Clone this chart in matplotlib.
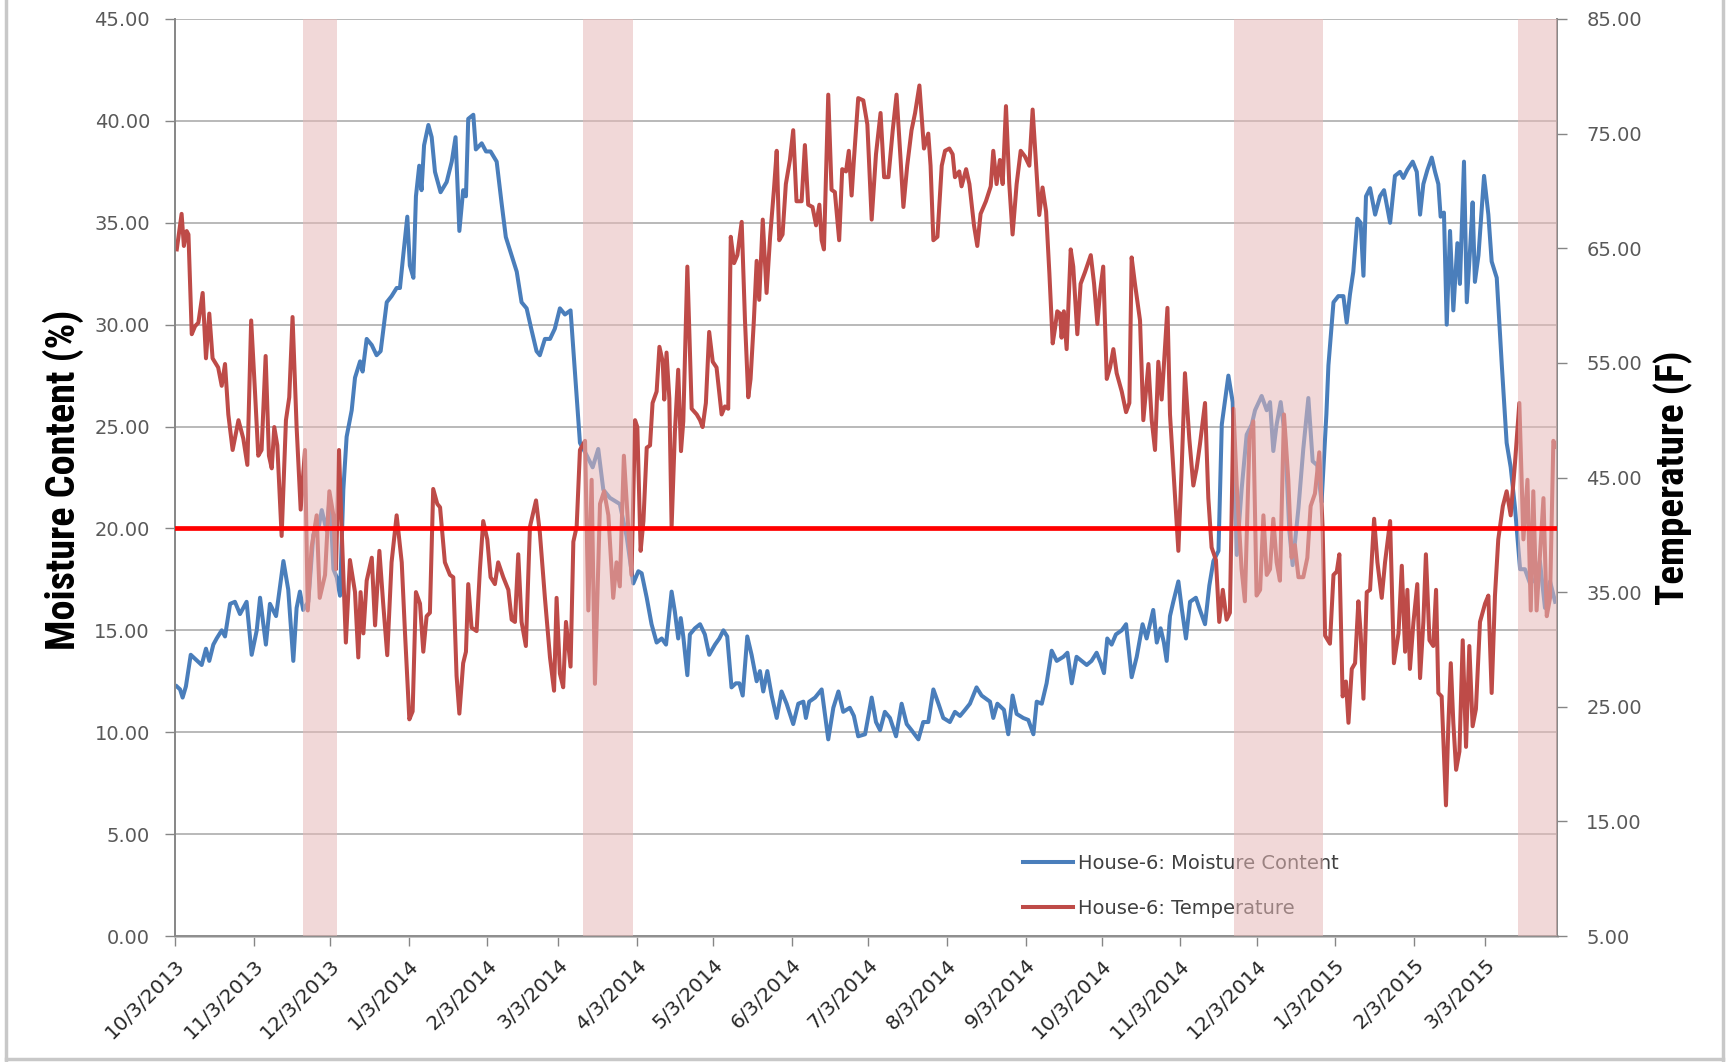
import matplotlib
matplotlib.use("Agg")
import matplotlib.pyplot as plt
from matplotlib import font_manager, transforms
from matplotlib.lines import Line2D
import numpy as np
import pandas as pd

# ---------------- data ----------------
start_date = "2013-10-03"

moist_days = [0.7, 2.0, 3.0, 4.3, 6.2, 7.9, 10.5, 12.2, 13.5, 15.1, 16.4, 18.4, 19.7, 21.7, 23.6, 25.6, 28.2,
              30.2, 32.2, 33.5, 35.8, 37.4, 39.8, 42.7, 44.6, 46.6, 47.9, 49.2, 50.5, 52.5, 54.5, 56.5, 57.8,
              59.7, 61.0, 62.4, 63.7, 65.0, 66.3, 67.6, 69.6, 70.9, 72.9, 73.9, 75.5, 77.5, 79.4, 81.0, 83.4,
              85.3, 87.3, 88.6, 89.9, 91.5, 92.5, 93.9, 94.9, 96.2, 97.1, 98.1, 99.8, 101.1, 102.4, 104.6,
              107.0, 109.0, 110.5, 112.0, 113.5, 114.6, 115.5, 117.5, 118.5, 120.8, 122.5, 124.3, 126.7,
              128.6, 130.3, 132.6, 134.6, 136.5, 138.5, 140.5, 142.4, 143.7, 145.7, 147.7, 149.6, 151.6,
              153.6, 155.8, 157.5, 159.5, 162.1, 164.5, 166.7, 168.7, 171.3, 175.2, 177.9, 180.5, 182.5,
              183.8, 185.8, 187.7, 189.7, 191.7, 193.4, 195.6, 196.9, 198.2, 199.2, 200.2, 201.8, 202.8,
              204.8, 206.8, 208.7, 210.4, 212.7, 214.4, 216.0, 217.5, 219.2, 220.9, 222.3, 223.6, 225.4,
              227.1, 229.1, 230.4, 231.7, 233.3, 235.0, 237.0, 238.9, 240.9, 243.5, 245.5, 247.5, 248.5,
              249.8, 252.1, 254.7, 257.3, 259.3, 261.3, 263.2, 265.8, 267.4, 269.1, 271.8, 274.4, 276.1,
              277.7, 279.6, 281.6, 284.0, 286.2, 288.2, 290.1, 292.8, 294.7, 296.7, 298.7, 300.7, 302.6,
              305.2, 307.2, 309.2, 311.2, 313.1, 315.7, 317.7, 321.0, 322.3, 323.9, 326.5, 328.2, 329.9,
              331.5, 334.1, 336.1, 338.1, 339.4, 341.4, 343.3, 345.3, 347.3, 349.9, 351.5, 353.2, 355.1,
              357.1, 359.1, 361.0, 363.0, 364.6, 365.9, 367.2, 368.9, 370.6, 372.9, 374.6, 376.8, 378.8,
              381.1, 382.7, 385.3, 386.7, 388.2, 389.5, 390.6, 391.9, 393.2, 395.2, 396.5, 398.2, 399.8,
              402.1, 403.7, 405.7, 407.4, 409.0, 411.0, 412.3, 414.9, 416.6, 418.2, 420.1, 422.1, 424.1,
              425.4, 428.0, 430.0, 431.3, 432.6, 433.9, 435.5, 437.2, 438.9, 440.2, 442.5, 444.4, 446.4,
              448.1, 449.9, 451.6, 453.5, 454.3, 456.3, 458.2, 460.2, 461.5, 462.8, 464.1, 465.7, 467.0,
              468.1, 469.1, 470.7, 472.7, 474.6, 476.2, 478.6, 480.5, 482.5, 483.8, 485.4, 487.5, 489.1,
              490.4, 491.7, 493.3, 495.0, 496.3, 497.6, 498.5, 499.8, 500.9, 502.2, 503.5, 505.1, 506.1,
              507.7, 508.8, 510.1, 511.1, 512.0, 513.4, 515.6, 517.3, 518.6, 520.6, 522.6, 524.5, 526.1,
              527.8, 529.8, 531.7, 533.7, 535.7, 537.6, 539.6, 541.6, 543.6]
moist_vals = [12.25, 12.1, 11.7, 12.25, 13.8, 13.6, 13.3, 14.1, 13.5, 14.3, 14.6, 15.0, 14.7, 16.3, 16.4, 15.8, 16.4,
              13.8, 15.0, 16.6, 14.3, 16.3, 15.7, 18.4, 17.0, 13.5, 16.1, 16.9, 16.0, 16.4, 19.7, 20.0, 20.9,
              19.9, 21.6, 18.0, 17.6, 16.7, 21.9, 24.5, 25.8, 27.4, 28.2, 27.7, 29.3, 29.0, 28.5, 28.7, 31.1,
              31.4, 31.8, 31.8, 33.4, 35.3, 32.9, 32.3, 36.3, 37.8, 36.6, 38.8, 39.8, 39.2, 37.5, 36.5,
              37.0, 38.0, 39.2, 34.6, 36.6, 36.3, 40.1, 40.3, 38.6, 38.9, 38.5, 38.5, 38.0,
              36.0, 34.3, 33.4, 32.6, 31.1, 30.8, 29.7, 28.7, 28.5, 29.3, 29.3, 29.8, 30.8,
              30.5, 30.7, 27.7, 24.2, 23.6, 23.0, 23.9, 21.9, 21.5, 21.2, 19.6, 17.3, 17.9,
              17.8, 16.6, 15.3, 14.4, 14.6, 14.3, 16.9, 15.9, 14.6, 15.6, 14.7, 12.8, 14.8,
              15.1, 15.3, 14.8, 13.8, 14.3, 14.6, 15.0, 14.7, 12.2, 12.4, 12.4, 11.8, 14.7,
              13.8, 12.5, 13.0, 12.0, 13.0, 11.8, 10.7, 12.0, 11.4, 10.4, 11.4, 11.5, 10.7,
              11.5, 11.7, 12.1, 9.65, 11.2, 12.0, 11.0, 11.2, 10.8, 9.8, 9.9, 11.7, 10.5,
              10.1, 11.0, 10.7, 9.8, 11.4, 10.4, 10.1, 9.65, 10.5, 10.5, 12.1, 11.4, 10.7,
              10.5, 11.0, 10.8, 11.1, 11.4, 12.2, 11.8, 11.5, 10.7, 11.4, 11.1, 9.9, 11.8,
              10.9, 10.7, 10.6, 9.9, 11.5, 11.4, 12.4, 14.0, 13.5, 13.7, 13.9, 12.4, 13.7,
              13.5, 13.3, 13.5, 13.9, 13.4, 12.9, 14.6, 14.3, 14.8, 15.0, 15.3, 12.7, 13.7,
              15.3, 14.6, 16.0, 14.4, 15.1, 14.4, 13.5, 15.7, 16.4, 17.4, 16.1, 14.6, 16.4,
              16.6, 16.0, 15.3, 17.2, 18.4, 18.9, 25.1, 27.5, 26.2, 18.7, 21.9, 24.6, 25.1,
              25.8, 26.5, 25.8, 26.2, 23.8, 25.1, 26.2, 24.5, 19.9, 18.2, 21.0, 23.9, 26.4,
              23.3, 23.1, 21.3, 25.6, 28.0, 31.1, 31.4, 31.4, 30.1, 31.5, 32.6, 35.2, 35.0,
              32.4, 36.3, 36.7, 35.4, 36.3, 36.6, 35.0, 37.3, 37.5, 37.2, 37.6, 38.0, 37.5,
              35.4, 36.9, 37.6, 38.2, 37.5, 36.9, 35.3, 35.5, 30.0, 34.6, 30.7, 34.0, 32.0,
              38.0, 31.1, 33.7, 36.0, 32.1, 33.4, 37.3, 35.4, 33.1, 32.3, 28.0, 24.2, 23.0,
              21.0, 18.0, 18.0, 17.3, 17.5, 18.4, 16.1, 17.4, 16.4]

temp_days = [0.7, 2.6, 3.5, 4.6, 5.3, 6.6, 7.9, 9.2, 10.9, 12.2, 13.5, 14.8, 17.0, 18.4, 19.7, 21.0, 22.7, 25.0,
             26.9, 28.5, 30.0, 31.5, 32.8, 34.1, 35.7, 37.0, 38.1, 39.1, 40.3, 42.0, 43.7, 45.0, 46.3, 47.9,
             49.5, 51.2, 52.3, 53.8, 55.8, 57.0, 59.1, 60.8, 62.4, 63.4, 64.6, 65.6, 67.3, 68.9, 70.9, 72.2,
             73.1, 74.2, 75.5, 77.5, 78.8, 80.5, 82.0, 83.6, 85.3, 87.3, 89.3, 90.6, 92.3, 93.6, 94.9, 96.5,
             97.8, 99.1, 100.4, 101.7, 103.3, 104.4, 106.3, 108.3, 109.6, 110.9, 112.0, 113.5, 114.6, 115.5,
             116.8, 118.8, 120.1, 121.4, 123.0, 124.3, 126.0, 127.3, 129.3, 131.3, 132.6, 133.9, 135.2,
             136.5, 138.2, 139.8, 142.2, 143.7, 145.7, 147.7, 149.3, 150.3, 151.6, 152.9, 154.0, 155.8,
             156.9, 158.2, 159.5, 161.5, 162.8, 164.1, 165.4, 167.4, 169.0, 170.7, 172.6, 173.9, 175.2,
             176.8, 178.5, 179.8, 181.2, 182.1, 183.4, 184.5, 185.8, 187.1, 188.1, 189.7, 190.8, 192.1,
             192.7, 193.6, 194.7, 195.6, 196.9, 198.2, 199.3, 200.2, 201.8, 203.5, 205.5, 206.8, 207.8,
             209.1, 210.4, 211.8, 213.3, 215.3, 216.6, 217.9, 218.9, 220.2, 221.5, 223.2, 224.5, 225.8,
             226.7, 228.0, 229.1, 230.1, 231.5, 233.0, 234.4, 235.9, 237.0, 238.0, 239.3, 240.6, 242.2,
             243.5, 244.8, 246.8, 248.1, 249.4, 251.1, 252.5, 253.8, 254.7, 255.6, 257.3, 258.6, 259.9,
             261.6, 262.8, 264.3, 265.4, 266.5, 267.4, 269.1, 271.1, 272.7, 274.4, 276.1, 277.9, 279.3,
             281.0, 282.7, 284.2, 285.8, 286.9, 288.4, 290.1, 291.5, 293.2, 295.0, 296.7, 297.6, 298.7,
             300.3, 302.0, 303.3, 305.0, 306.3, 307.2, 308.9, 309.8, 311.6, 312.9, 314.7, 316.0, 317.3,
             319.4, 321.3, 322.3, 323.6, 324.9, 326.0, 327.3, 328.6, 329.9, 331.5, 333.1, 334.8, 336.5,
             337.8, 339.4, 340.4, 341.7, 343.1, 344.4, 345.7, 346.6, 347.5, 348.6, 349.2, 350.1, 351.2,
             352.8, 353.8, 355.4, 356.7, 358.4, 360.7, 362.0, 363.3, 364.3, 365.6, 367.0, 368.3, 369.6,
             370.9, 372.9, 374.6, 375.9, 376.8, 378.1, 380.1, 381.4, 383.4, 384.7, 386.0, 387.3, 388.6,
             389.3, 390.9, 391.9, 393.9, 395.2, 396.5, 397.8, 399.5, 401.1, 402.4, 403.7, 405.7, 407.0,
             408.3, 410.0, 411.3, 412.7, 414.2, 415.5, 416.9, 418.2, 420.1, 421.4, 423.2, 424.7, 426.0,
             427.4, 428.7, 430.0, 431.3, 432.6, 433.9, 435.2, 436.8, 438.5, 439.8, 441.1, 442.5, 444.4,
             446.0, 447.3, 449.0, 450.7, 452.0, 453.0, 454.9, 456.3, 457.6, 458.6, 459.9, 461.2, 462.2,
             463.5, 464.8, 466.1, 467.0, 468.1, 469.4, 470.7, 472.3, 473.6, 475.3, 476.6, 478.6, 480.1,
             481.9, 483.2, 484.5, 485.4, 486.4, 487.8, 489.3, 490.4, 491.7, 492.7, 494.1, 495.6, 496.7,
             497.6, 498.9, 500.6, 501.5, 502.5, 503.5, 504.6, 505.9, 507.2, 508.5, 509.8, 511.1, 512.4,
             514.0, 516.0, 517.3, 518.6, 519.9, 521.2, 523.0, 524.5, 526.1, 527.8, 529.5, 531.1, 532.7,
             534.0, 535.0, 536.3, 537.6, 539.0, 540.3, 541.6, 542.9, 544.0]
temp_vals = [64.9, 68.0, 65.2, 66.5, 66.2, 57.5, 58.2, 58.5, 61.1, 55.4, 59.3, 55.4, 54.6, 53.0, 54.9, 50.5, 47.4, 50.0,
             48.4, 46.1, 58.7, 52.5, 46.9, 47.4, 55.6, 46.9, 45.8, 49.4, 47.8, 39.9, 50.0, 52.0, 59.0, 49.4,
             42.2, 47.4, 33.4, 38.9, 41.7, 34.5, 36.5, 43.8, 41.7, 37.0, 47.4, 40.7, 30.6, 37.8, 35.0, 29.3,
             35.0, 31.4, 36.0, 38.0, 32.1, 38.6, 34.0, 29.5, 37.6, 41.7, 37.6, 31.4, 23.9, 24.6, 35.0, 34.0,
             29.8, 32.9, 33.2, 44.0, 42.7, 42.4, 37.6, 36.5, 36.3, 27.7, 24.4, 28.8, 29.8, 35.7,
             31.9, 31.6, 37.0, 41.2, 39.6, 36.3, 35.7, 37.6, 36.3, 35.2, 32.6, 32.4, 38.3,
             32.4, 30.3, 40.7, 43.0, 40.2, 34.5, 29.3, 26.4, 34.5, 27.9, 26.7, 32.4, 28.5,
             39.4, 40.7, 47.4, 48.2, 33.4, 44.8, 27.0, 42.7, 43.8, 41.7, 34.5, 37.6, 35.5,
             46.9, 40.7, 36.5, 50.0, 49.4, 38.6, 41.2, 47.6, 47.8, 51.5, 52.5, 56.4, 55.1,
             51.8, 55.9, 51.9, 40.7, 49.0, 54.4, 47.3, 49.9, 63.4, 51.0, 50.5, 50.0, 49.4,
             51.5, 57.7, 55.1, 54.6, 50.5, 51.2, 51.0, 66.0, 63.7, 64.4, 67.3, 58.7, 52.0,
             53.6, 58.7, 63.9, 60.5, 67.5, 61.1, 66.0, 70.1, 73.5, 65.7, 66.2, 70.6, 72.7,
             75.3, 69.1, 69.1, 74.0, 68.8, 68.6, 67.0, 68.8, 65.7, 64.9, 78.4, 70.1, 69.9,
             65.7, 71.9, 71.7, 73.5, 69.6, 72.7, 78.1, 77.9, 75.8, 67.5, 73.2, 76.8, 71.2,
             71.2, 75.3, 78.4, 72.7, 68.6, 72.2, 75.3, 76.8, 79.2, 73.7, 75.0, 72.2, 65.7,
             66.0, 72.2, 73.5, 73.7, 73.2, 71.2, 71.7, 70.4, 71.9, 70.6, 67.0, 65.2, 68.0,
             69.1, 70.4, 73.5, 70.6, 72.7, 70.6, 77.4, 70.6, 66.2, 70.6, 73.5, 73.0, 72.2,
             77.1, 71.4, 67.9, 70.3, 68.2, 62.8, 56.7, 58.0, 59.5, 59.3, 57.2, 59.5, 56.2,
             64.9, 63.4, 57.5, 61.9, 62.9, 64.4, 61.9, 58.4, 61.1, 63.4, 53.6, 54.6, 56.2,
             54.1, 52.5, 50.7, 51.5, 64.2, 61.9, 58.7, 50.0, 54.9, 50.0, 47.4, 55.1, 51.8,
             54.1, 59.8, 50.5, 43.2, 38.6, 45.8, 54.1, 48.4, 44.3, 45.8, 47.9, 51.5, 43.2,
             38.9, 37.8, 32.4, 35.2, 32.6, 33.2, 51.0, 44.3, 37.0, 34.2, 48.4, 49.9, 34.7,
             35.2, 41.7, 36.5, 37.0, 41.4, 37.6, 36.0, 50.5, 44.8, 38.0, 39.1, 36.3, 36.3,
             38.0, 42.5, 43.6, 47.2, 40.7, 31.2, 30.5, 36.5, 36.8, 38.3, 25.9, 27.2, 23.6,
             28.3, 28.8, 34.2, 31.4, 25.7, 35.0, 35.2, 41.4, 37.6, 34.5, 37.6, 41.2, 28.8,
             31.4, 37.3, 29.8, 35.2, 28.3, 32.4, 35.7, 27.5, 32.4, 38.3, 30.8, 30.3, 35.2,
             26.2, 25.9, 16.4, 23.1, 28.8, 23.6, 19.5, 21.1, 30.8, 21.5, 30.3, 23.3, 24.8,
             32.4, 34.0, 34.7, 26.2, 34.7, 39.6, 42.5, 43.8, 41.7, 46.3, 51.5, 39.6, 44.8,
             33.4, 43.8, 33.4, 38.1, 43.2, 32.9, 34.5, 48.2, 47.7]

threshold_mc = 20.0

band_starts = ["2013-11-22 12:00", "2014-03-12 19:00", "2014-11-24 00:00", "2015-03-15 22:00"]
band_ends = ["2013-12-05 17:00", "2014-04-01 05:00", "2014-12-29 07:00", "2015-03-31 08:00"]

tick_dates = ["2013-10-03", "2013-11-03", "2013-12-03", "2014-01-03", "2014-02-03", "2014-03-03",
              "2014-04-03", "2014-05-03", "2014-06-03", "2014-07-03", "2014-08-03", "2014-09-03",
              "2014-10-03", "2014-11-03", "2014-12-03", "2015-01-03", "2015-02-03", "2015-03-03"]
tick_labels = ["10/3/2013", "11/3/2013", "12/3/2013", "1/3/2014", "2/3/2014", "3/3/2014", "4/3/2014",
               "5/3/2014", "6/3/2014", "7/3/2014", "8/3/2014", "9/3/2014", "10/3/2014", "11/3/2014",
               "12/3/2014", "1/3/2015", "2/3/2015", "3/3/2015"]

x_end = "2015-03-31 08:00"
mc_ticks = [0, 5, 10, 15, 20, 25, 30, 35, 40, 45]
temp_ticks = [5, 15, 25, 35, 45, 55, 65, 75, 85]

series_labels = ["House-6: Moisture Content", "House-6: Temperature"]
ylabel_left = "Moisture Content (%)"
ylabel_right = "Temperature (F)"

# ---------------- fonts ----------------
avail = {f.name for f in font_manager.fontManager.ttflist}


def pick(*names):
    for n in names:
        if n in avail:
            return n
    return "DejaVu Sans"


title_font = pick("Liberation Sans Narrow", "DejaVu Sans Condensed", "Roboto Condensed",
                  "Open Sans Condensed", "Liberation Sans")
tick_font = "DejaVu Sans"

# ---------------- figure ----------------
W, H = 1729, 1062
fig = plt.figure(figsize=(W / 100, H / 100), dpi=100)
fig.patch.set_facecolor("white")

L, R, T, B = 175, 1557, 19, 936
ax = fig.add_axes([L / W, 1 - B / H, (R - L) / W, (B - T) / H])
ax2 = ax.twinx()

t0 = pd.Timestamp(start_date)
mx = t0 + pd.to_timedelta(np.array(moist_days), unit="D")
tx = t0 + pd.to_timedelta(np.array(temp_days), unit="D")

blue = "#4A7EBB"
red = "#BE4B48"
grid_c = "#A6A6A6"
spine_c = "#868686"

l1, = ax.plot(mx, moist_vals, color=blue, lw=2.9, solid_joinstyle="round", zorder=2)
l2, = ax2.plot(tx, temp_vals, color=red, lw=2.9, solid_joinstyle="round", zorder=2)

ax.set_xlim(t0, pd.Timestamp(x_end))
ax.set_ylim(0, 45)
ax2.set_ylim(5, 85)

ax.set_yticks(mc_ticks)
ax.set_yticklabels([f"{v:.2f}" for v in mc_ticks])
ax2.set_yticks(temp_ticks)
ax2.set_yticklabels([f"{v:.2f}" for v in temp_ticks])

ax.set_xticks(pd.to_datetime(tick_dates))
ax.set_xticklabels(tick_labels, rotation=45, ha="right", rotation_mode="anchor",
                   fontsize=14.5, color="#262626", family=tick_font)

ax.yaxis.grid(True, color=grid_c, lw=1.1)
ax.set_axisbelow(True)

for a in (ax, ax2):
    a.spines["top"].set_visible(False)
    for s in ("left", "right", "bottom"):
        a.spines[s].set_color(spine_c)
        a.spines[s].set_linewidth(1.2)
ax.spines["bottom"].set_linewidth(2.0)
ax.spines["bottom"].set_color("#BFBFBF")

ax.tick_params(axis="y", length=7, width=1, color=spine_c, pad=11, labelsize=14, labelcolor="#595959")
ax2.tick_params(axis="y", length=7, width=1, color=spine_c, pad=14, labelsize=14, labelcolor="#595959")
ax.tick_params(axis="x", length=7, width=1, color=spine_c, pad=7)

# bands on top of the data lines (semi-transparent)
for s, e in zip(band_starts, band_ends):
    ax2.axvspan(pd.Timestamp(s), pd.Timestamp(e), color="#E6B9B8", alpha=0.55, lw=0, zorder=4)

# threshold line in moisture units, drawn on top
blend = transforms.blended_transform_factory(ax2.transAxes, ax.transData)
ax2.add_line(Line2D([0, 1], [threshold_mc, threshold_mc], transform=blend, color="#FF0000",
                    lw=3.4, zorder=5))

# legend
leg = ax2.legend([l1, l2], series_labels, loc="upper left",
                 bbox_to_anchor=(1015 / W, 1 - 846 / H), bbox_transform=fig.transFigure,
                 frameon=False, fontsize=14, handlelength=2.6, handletextpad=0.25,
                 labelspacing=1.35, borderaxespad=0)
for txt in leg.get_texts():
    txt.set_color("#404040")
leg.set_zorder(3)

# axis titles
yl = fig.text(63 / W, 1 - 480 / H, ylabel_left, rotation=90, ha="center", va="center",
              fontsize=24, fontweight="bold", family=title_font, color="black")
yr = fig.text(1673 / W, 1 - 478 / H, ylabel_right, rotation=90, ha="center", va="center",
              fontsize=24, fontweight="bold", family=title_font, color="black")
fig.canvas.draw()
r = fig.canvas.get_renderer()
for t, target in ((yl, 342.0), (yr, 255.0)):
    h = t.get_window_extent(r).height
    t.set_fontsize(t.get_fontsize() * target / h)

# outer chart frame
for xs, ys in (([6, 6], [0, 1060]), ([1723, 1723], [0, 1060]), ([6, 1723], [1059, 1059])):
    fig.add_artist(Line2D([x / W for x in xs], [1 - y / H for y in ys], transform=fig.transFigure,
                          color="#C8C8C8", lw=2.5))

fig.savefig("out.png", dpi=100, facecolor="white")
